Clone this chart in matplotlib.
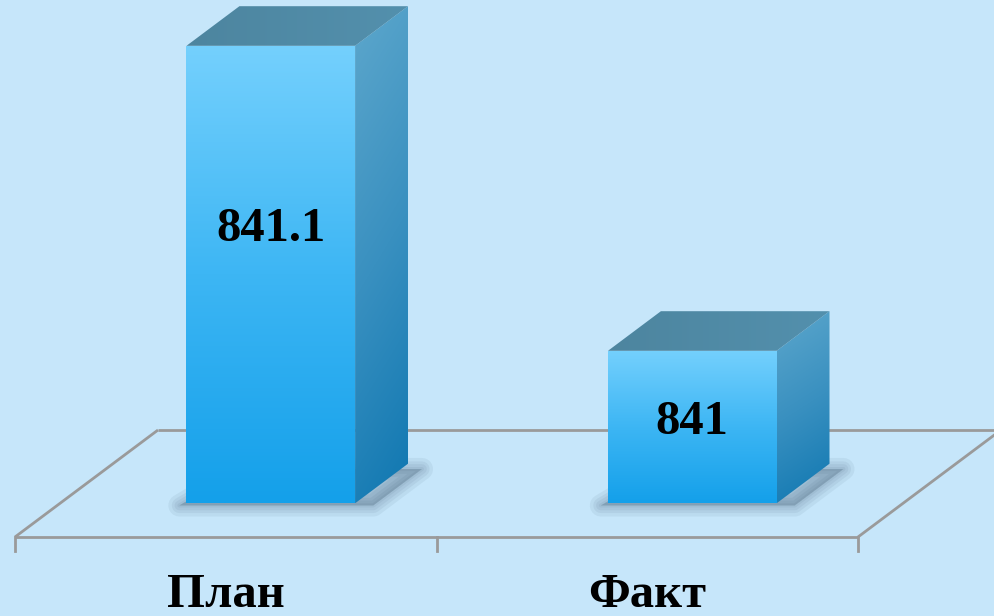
import numpy as np
import matplotlib.pyplot as plt
from matplotlib.patches import Polygon
from matplotlib.colors import LinearSegmentedColormap

# data
categories = ["План", "Факт"]
values = [841.1, 841]
axis_min = 840.95

# layout (pixels, dpi 100)
W, H = 994, 616
PX_PER_CAT = 421.5
PX_PER_UNIT = 3050
FLOOR_LEFT = 15
FLOOR_Y = 79
DEPTH_PX = (143, 107)
BAR_W = 0.4
D0, D1 = 0.315, 0.685
LABEL_FRAC = [0.60, 0.53]

BG = "#C6E6FA"
LINE = "#9A9A9A"

fig = plt.figure(figsize=(W / 100, H / 100), dpi=100)
fig.patch.set_facecolor(BG)
ax = fig.add_axes([0, 0, 1, 1])
ax.set_facecolor(BG)
ax.axis("off")

xlim = (-0.5 - FLOOR_LEFT / PX_PER_CAT, -0.5 + (W - FLOOR_LEFT) / PX_PER_CAT)
ylim = (axis_min - FLOOR_Y / PX_PER_UNIT, axis_min + (H - FLOOR_Y) / PX_PER_UNIT)
DX = DEPTH_PX[0] / PX_PER_CAT
DY = DEPTH_PX[1] / PX_PER_UNIT


def P(x, v, d):
    return (x + d * DX, v + d * DY)


def grad_fill(pts, colors, angle=90, z=2):
    # colors go from dark (first) to light (last) along the angle direction
    pts = np.array(pts)
    patch = Polygon(pts, closed=True, facecolor="none", edgecolor="none", zorder=z)
    ax.add_patch(patch)
    x0, y0 = pts.min(axis=0)
    x1, y1 = pts.max(axis=0)
    n = 200
    u, v = np.meshgrid(np.linspace(0, 1, n), np.linspace(0, 1, n))
    a = np.deg2rad(angle)
    t = u * np.cos(a) + v * np.sin(a)
    t = (t - t.min()) / (t.max() - t.min())
    cmap = LinearSegmentedColormap.from_list("g", colors)
    im = ax.imshow(t, cmap=cmap, extent=(x0, x1, y0, y1), origin="lower",
                   aspect="auto", interpolation="bilinear", zorder=z)
    im.set_clip_path(patch)


# floor
left, right = -0.5, len(categories) - 0.5
floor_lines = [
    [P(left, axis_min, 0), P(right, axis_min, 0)],
    [P(left, axis_min, 1), P(right, axis_min, 1)],
    [P(left, axis_min, 0), P(left, axis_min, 1)],
    [P(right, axis_min, 0), P(right, axis_min, 1)],
]
for seg in floor_lines:
    xs, ys = zip(*seg)
    ax.plot(xs, ys, color=LINE, lw=2, zorder=1, solid_capstyle="butt")

tick_len = 14 / PX_PER_UNIT
for tx in np.arange(left, right + 0.01, 1):
    ax.plot([tx, tx], [axis_min, axis_min - tick_len], color=LINE, lw=2, zorder=1)

# bars
for i, (cat, val) in enumerate(zip(categories, values)):
    x0, x1 = i - BAR_W / 2, i + BAR_W / 2

    # soft shadow on the floor, pushed a little to the right
    foot = [P(x0 - 0.01, axis_min, D0 - 0.02), P(x1 + 0.05, axis_min, D0 - 0.02),
            P(x1 + 0.05, axis_min, D1 - 0.05), P(x0 + 0.02, axis_min, D1 - 0.05)]
    for lw in [16, 11, 7, 3]:
        ax.add_patch(Polygon(foot, closed=True, facecolor=(0.2, 0.3, 0.4, 0.07),
                             edgecolor=(0.2, 0.3, 0.4, 0.07), lw=lw,
                             joinstyle="round", zorder=1.5))

    front = [P(x0, axis_min, D0), P(x1, axis_min, D0), P(x1, val, D0), P(x0, val, D0)]
    side = [P(x1, axis_min, D0), P(x1, axis_min, D1), P(x1, val, D1), P(x1, val, D0)]
    top = [P(x0, val, D0), P(x1, val, D0), P(x1, val, D1), P(x0, val, D1)]

    grad_fill(front, ["#14A0EA", "#3DB6F4", "#74D0FD"], angle=90, z=3)
    grad_fill(side, ["#0F77B1", "#3990C0", "#5DA7CC"], angle=100, z=3)
    grad_fill(top, ["#4D859F", "#5390AD"], angle=0, z=3)

    # value label on the front face
    ly = axis_min + (val - axis_min) * LABEL_FRAC[i]
    lx, ly = P(i, ly, D0)
    ax.text(lx, ly, f"{val:g}", ha="center", va="center", fontsize=35,
            fontweight="bold", family="Liberation Serif", color="black", zorder=5)

    # category label
    ax.annotate(cat, (i, axis_min), xytext=(0, -58), textcoords="offset pixels",
                ha="center", va="center", fontsize=35, fontweight="bold",
                family="Liberation Serif", color="black", zorder=5)

ax.set_xlim(*xlim)
ax.set_ylim(*ylim)

fig.savefig("out.png", dpi=100, facecolor=BG)
